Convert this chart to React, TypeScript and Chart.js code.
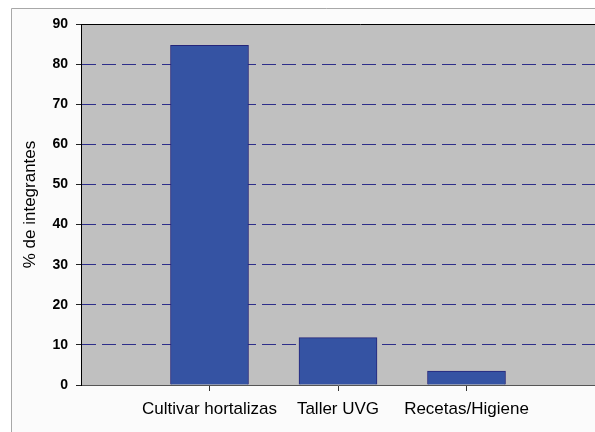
import React, { useEffect, useRef } from "react";
import { Chart, registerables } from "chart.js";

Chart.register(...registerables);

const categories = ["", "Cultivar hortalizas", "Taller UVG", "Recetas/Higiene", ""];
const values: (number | null)[] = [null, 84.7, 11.8, 3.5, null];
const yTicks = [0, 10, 20, 30, 40, 50, 60, 70, 80, 90];
const yTitle = "% de integrantes";

const CANVAS_W = 640;
const CANVAS_H = 432;

const framePlugin = {
  id: "frameBg",
  beforeDraw(chart: any) {
    const { ctx, chartArea } = chart;
    ctx.save();
    ctx.fillStyle = "#ffffff";
    ctx.fillRect(0, 0, chart.width, chart.height);
    ctx.fillStyle = "#fbfbfb";
    ctx.fillRect(11, 8, chart.width, chart.height);
    ctx.strokeStyle = "#a8a8a8";
    ctx.lineWidth = 1;
    ctx.beginPath();
    ctx.moveTo(11.5, chart.height + 5);
    ctx.lineTo(11.5, 8.5);
    ctx.lineTo(chart.width + 5, 8.5);
    ctx.stroke();
    ctx.fillStyle = "#c0c0c0";
    ctx.fillRect(chartArea.left, chartArea.top, chartArea.right - chartArea.left, chartArea.bottom - chartArea.top);
    ctx.restore();
  },
  afterDraw(chart: any) {
    const { ctx, chartArea } = chart;
    ctx.save();
    ctx.strokeStyle = "#000000";
    ctx.lineWidth = 1;
    ctx.beginPath();
    ctx.moveTo(chartArea.left, Math.round(chartArea.top) + 0.5);
    ctx.lineTo(chart.width, Math.round(chartArea.top) + 0.5);
    ctx.stroke();
    ctx.restore();
  },
};

export default function App() {
  const ref = useRef<HTMLCanvasElement | null>(null);
  useEffect(() => {
    if (!ref.current) return;
    const chart = new Chart(ref.current, {
      type: "bar",
      data: {
        labels: categories,
        datasets: [
          {
            data: values,
            backgroundColor: "#3553a3",
            borderColor: "#25257a",
            borderWidth: 1,
            barThickness: 78,
          },
        ],
      },
      options: {
        animation: false,
        responsive: false,
        maintainAspectRatio: false,
        devicePixelRatio: 1,
        layout: { padding: { left: 0, top: 24, right: CANVAS_W - 595, bottom: 0 } },
        plugins: { legend: { display: false }, tooltip: { enabled: false } },
        scales: {
          x: {
            type: "category",
            offset: false,
            afterFit(scale: any) {
              scale.height = 47;
            },
            grid: {
              offset: false,
              drawOnChartArea: false,
              drawTicks: true,
              tickLength: 6,
              tickColor: (c: any) => (c.index >= 1 && c.index <= 3 ? "#333333" : "rgba(0,0,0,0)"),
              color: "rgba(0,0,0,0)",
            },
            border: { display: true, color: "#555555", width: 1 },
            ticks: {
              autoSkip: false,
              maxRotation: 0,
              minRotation: 0,
              padding: 8,
              color: "#000000",
              font: { family: "'Liberation Sans', Arial, sans-serif", size: 17 },
            },
          },
          y: {
            min: 0,
            max: 90,
            afterFit(scale: any) {
              scale.width = 81;
            },
            afterBuildTicks(scale: any) {
              scale.ticks = yTicks.map((v) => ({ value: v }));
            },
            grid: {
              color: (c: any) => (c.tick && (c.tick.value === 0 || c.tick.value === 90) ? "rgba(0,0,0,0)" : "#2e2e8a"),
              lineWidth: 1,
              tickLength: 5,
              tickColor: "#222222",
              tickBorderDash: [],
            },
            border: { display: true, color: "#000000", width: 1, dash: [14, 6] },
            ticks: {
              padding: 8,
              color: "#000000",
              font: { family: "'Liberation Sans', Arial, sans-serif", size: 14, weight: "bold" },
            },
            title: {
              display: true,
              text: yTitle,
              color: "#000000",
              padding: { top: 20, bottom: 0 },
              font: { family: "'Liberation Sans', Arial, sans-serif", size: 17 },
            },
          },
        },
      },
      plugins: [framePlugin],
    } as any);
    return () => chart.destroy();
  }, []);
  return (
    <div style={{ position: "fixed", left: 0, top: 0, width: 595, height: 432, overflow: "hidden", background: "#fff" }}>
      <canvas ref={ref} width={CANVAS_W} height={CANVAS_H} style={{ display: "block", width: CANVAS_W, height: CANVAS_H }} />
    </div>
  );
}
